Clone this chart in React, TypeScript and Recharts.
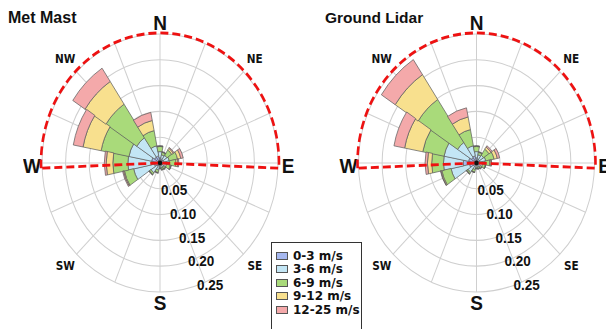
import {
  PolarAngleAxis,
  PolarGrid,
  PolarRadiusAxis,
  RadialBar,
  RadialBarChart,
  Sector,
} from "recharts"

const directions = ["N", "NNE", "NE", "ENE", "E", "ESE", "SE", "SSE", "S", "SSW", "SW", "WSW", "W", "WNW", "NW", "NNW"]
const speedBins = ["0-3 m/s", "3-6 m/s", "6-9 m/s", "9-12 m/s", "12-25 m/s"]
const binColors = ["#a6b8f0", "#c3e6f5", "#a9da7a", "#f8e08e", "#f4a9aa"]
const radiusTicks = [0, 0.05, 0.1, 0.15, 0.2, 0.25]

// Met Mast, share of time per direction and speed bin
const mast0to3 = [0.01, 0.008, 0.008, 0.008, 0.008, 0.006, 0.005, 0.005, 0.005, 0.006, 0.008, 0.012, 0.018, 0.018, 0.014, 0.014]
const mast3to6 = [0.012, 0.008, 0.01, 0.012, 0.012, 0.008, 0.005, 0.005, 0.004, 0.008, 0.015, 0.045, 0.05, 0.049, 0.045, 0.02]
const mast6to9 = [0.01, 0.005, 0.012, 0.018, 0.014, 0.008, 0.004, 0.003, 0.002, 0.005, 0.004, 0.02, 0.032, 0.06, 0.078, 0.03]
const mast9to12 = [0.001, 0.001, 0.004, 0.007, 0.004, 0.002, 0.001, 0.001, 0, 0.001, 0.001, 0.002, 0.014, 0.039, 0.053, 0.02]
const mast12to25 = [0, 0, 0.002, 0.005, 0.002, 0, 0, 0, 0, 0, 0, 0.002, 0.004, 0.021, 0.031, 0.016]

// Ground Lidar
const lidar0to3 = [0.01, 0.008, 0.008, 0.008, 0.008, 0.006, 0.005, 0.005, 0.005, 0.006, 0.008, 0.015, 0.028, 0.017, 0.013, 0.014]
const lidar3to6 = [0.012, 0.008, 0.01, 0.012, 0.01, 0.007, 0.005, 0.004, 0.004, 0.007, 0.014, 0.04, 0.042, 0.053, 0.035, 0.02]
const lidar6to9 = [0.01, 0.005, 0.014, 0.018, 0.01, 0.006, 0.003, 0.003, 0.002, 0.005, 0.003, 0.02, 0.025, 0.046, 0.1, 0.032]
const lidar9to12 = [0.001, 0.001, 0.005, 0.007, 0.003, 0.001, 0.001, 0, 0, 0.001, 0.001, 0.002, 0.009, 0.039, 0.058, 0.025]
const lidar12to25 = [0, 0, 0.003, 0.005, 0.001, 0, 0, 0, 0, 0, 0, 0.001, 0.005, 0.023, 0.035, 0.018]

const binKeys = ["b0", "b1", "b2", "b3", "b4"]

function buildRows(bins: number[][]) {
  return directions.map((dir, i) => {
    const row: Record<string, string | number> = { dir }
    bins.forEach((arr, j) => {
      row[binKeys[j]] = arr[i]
    })
    return row
  })
}

const mastRows = buildRows([mast0to3, mast3to6, mast6to9, mast9to12, mast12to25])
const lidarRows = buildRows([lidar0to3, lidar3to6, lidar6to9, lidar9to12, lidar12to25])

const SQUASH = 1.093
const CY = 149.1
const R = 118
const cardinals = ["N", "E", "S", "W"]
const corners = ["NE", "SE", "SW", "NW"]
// spokes sit on the compass directions (0 deg = east in recharts, counter-clockwise)
const spokeAngles = directions.map((_, i) => 90 - i * 22.5)

function makeAngleTick(cx: number, cy: number) {
  return (props: any) => {
    const label = props.payload?.value
    const big = cardinals.includes(label)
    if (!big && !corners.includes(label)) return <g />
    const idx = directions.indexOf(label)
    const a = ((90 - idx * 22.5) * Math.PI) / 180
    const r = big ? 128 : 134
    const x = cx + r * Math.cos(a)
    const y = cy - r * Math.sin(a) + (label === "W" || label === "E" ? 2.7 : 0)
    return (
      <text
        x={x}
        y={y}
        textAnchor="middle"
        dominantBaseline="central"
        fontFamily={big ? "Liberation Sans, Arial, sans-serif" : "DejaVu Sans, sans-serif"}
        fontWeight="bold"
        fontSize={big ? 19 : 10.5}
        fill="#111"
      >
        {label}
      </text>
    )
  }
}

function RadiusTick(props: any) {
  const v = props.payload?.value
  if (!v) return <g />
  return (
    <text
      x={props.x + 5}
      y={props.y + 2.6}
      textAnchor="middle"
      dominantBaseline="central"
      fontFamily="Liberation Sans, Arial, sans-serif"
      fontWeight="bold"
      fontSize={13.5}
      fill="#111"
    >
      {v.toFixed(2)}
    </text>
  )
}

function WindRose({ rows, left, cx }: { rows: Record<string, string | number>[]; left: number; cx: number }) {
  return (
    <div
      style={{
        position: "absolute",
        left,
        top: 0,
        width: 303,
        height: 300,
        transform: `scaleY(${SQUASH})`,
        transformOrigin: "0 0",
      }}
    >
      <RadialBarChart
        width={303}
        height={300}
        cx={cx}
        cy={CY}
        innerRadius={0}
        outerRadius={R}
        startAngle={78.75}
        endAngle={-281.25}
        data={rows}
        layout="centric"
        barCategoryGap={0}
        barGap={0}
        margin={{ top: 0, right: 0, bottom: 0, left: 0 }}
      >
        <PolarGrid gridType="circle" stroke="#cfcfcf" strokeWidth={1} polarAngles={spokeAngles} />
        <PolarAngleAxis
          type="category"
          dataKey="dir"
          axisLine={false}
          tickLine={false}
          tick={makeAngleTick(cx, CY)}
        />
        <PolarRadiusAxis
          type="number"
          domain={[0, 0.25]}
          ticks={radiusTicks}
          tickCount={6}
          angle={-67.5}
          axisLine={false}
          tickLine={false}
          tick={RadiusTick}
        />
        {binKeys.map((k, i) => (
          <RadialBar
            key={k}
            dataKey={k}
            name={speedBins[i]}
            stackId="speed"
            fill={binColors[i]}
            stroke="#5e5e5e"
            strokeWidth={0.7}
            isAnimationActive={false}
          />
        ))}
      </RadialBarChart>
      <svg width={303} height={300} style={{ position: "absolute", left: 0, top: 0, pointerEvents: "none" }}>
        <Sector
          cx={cx}
          cy={CY}
          innerRadius={0}
          outerRadius={R + 1}
          startAngle={182.3}
          endAngle={-2.3}
          fill="none"
          stroke="#ee1111"
          strokeWidth={2.6}
          strokeDasharray="8 4"
        />
        <circle cx={cx} cy={CY} r={2.2} fill="#111" />
      </svg>
    </div>
  )
}

export default function App() {
  return (
    <div
      style={{
        position: "fixed",
        left: 0,
        top: 0,
        width: 606,
        height: 329,
        background: "#fff",
        overflow: "hidden",
      }}
    >
      <WindRose rows={mastRows} left={0} cx={160} />
      <WindRose rows={lidarRows} left={303} cx={173.5} />
      <div
        style={{
          position: "absolute",
          left: 8,
          top: 9,
          fontFamily: "Liberation Sans, Arial, sans-serif",
          fontWeight: "bold",
          fontSize: 16,
          color: "#111",
        }}
      >
        Met Mast
      </div>
      <div
        style={{
          position: "absolute",
          left: 325,
          top: 9,
          fontFamily: "Liberation Sans, Arial, sans-serif",
          fontWeight: "bold",
          fontSize: 15.5,
          color: "#111",
        }}
      >
        Ground Lidar
      </div>
      <div
        style={{
          position: "absolute",
          left: 271,
          top: 242,
          width: 89,
          height: 83,
          border: "1px solid #333",
          background: "#fff",
          paddingTop: 6,
          boxSizing: "content-box",
        }}
      >
        {speedBins.map((name, i) => (
          <div
            key={name}
            style={{ display: "flex", alignItems: "center", height: 13.5, marginLeft: 4 }}
          >
            <span
              style={{
                display: "inline-block",
                width: 10,
                height: 6,
                background: binColors[i],
                border: "1px solid #555",
                marginRight: 5,
              }}
            />
            <span
              style={{
                fontFamily: "DejaVu Sans, sans-serif",
                fontWeight: "bold",
                fontSize: 12,
                color: "#111",
                whiteSpace: "nowrap",
              }}
            >
              {name}
            </span>
          </div>
        ))}
      </div>
    </div>
  )
}
